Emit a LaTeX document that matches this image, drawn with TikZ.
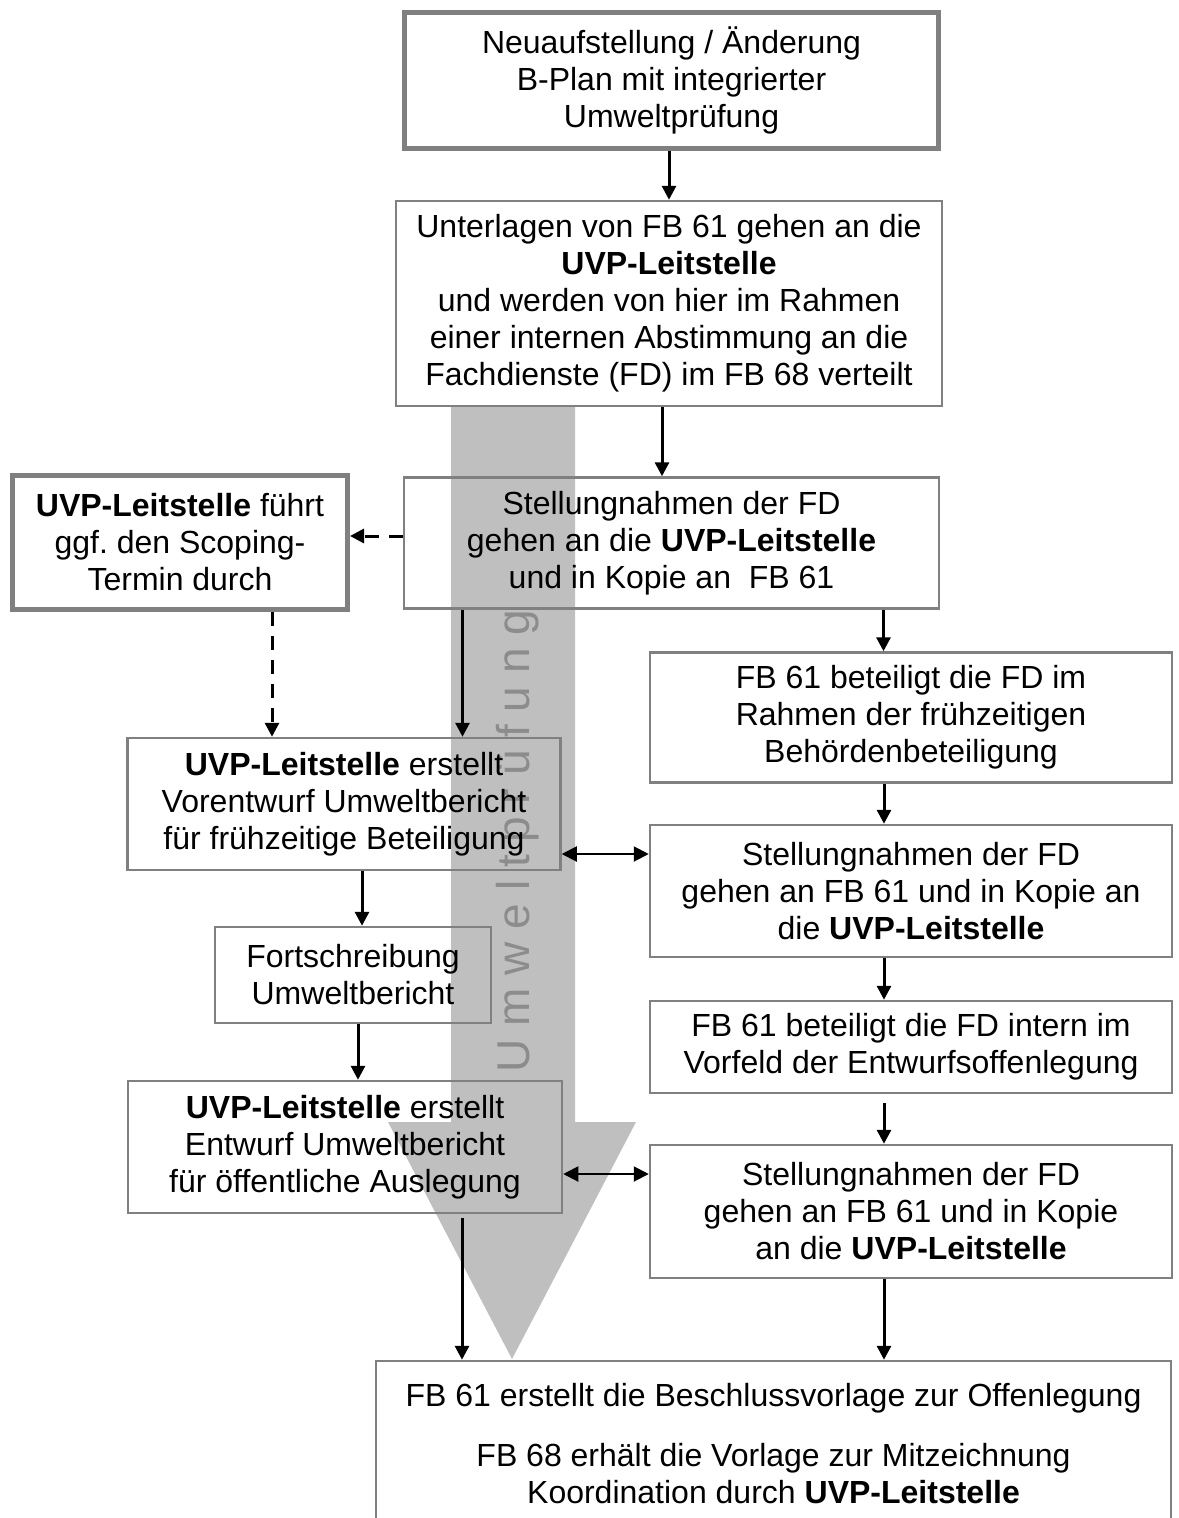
\documentclass[tikz,border=0pt]{standalone}
\usepackage{fontspec}
\setmainfont{Liberation Sans}
\usetikzlibrary{arrows.meta}

\begin{document}
\frenchspacing
\begin{tikzpicture}[
	x=1pt, y=-1pt,
	box/.style={draw=black!50, line width=2.5pt, rectangle, align=center, inner sep=0pt, font=\fontsize{32}{37}\selectfont},
	thickbox/.style={box, line width=5pt},
	connect/.style={-{Triangle[width=14pt,length=14pt]}, line width=3pt},
	dashconnect/.style={connect, dash pattern=on 14pt off 10pt},
	both/.style={{Triangle[width=15pt,length=15pt]}-{Triangle[width=15pt,length=15pt]}, line width=2pt}
	]
	
	\useasboundingbox (0,0) rectangle (1178,1518);
	\clip (0,0) rectangle (1178,1518);
	
	%-----------------------
	% Column positions
	%-----------------------
	\def\xmid{671.5}   % main column
	\def\xleft{344}    % left column
	\def\xright{911}   % right column
	
	%-----------------------
	% Big gray arrow
	%-----------------------
	\fill[black!25] (451,406) -- (575,406) -- (575,1122) -- (636,1122) -- (512,1359) -- (388,1122) -- (451,1122) -- cycle;
	\node[rotate=90, text=black!45, inner sep=0pt, font=\fontsize{46}{46}\selectfont] (pruefung) at (518,841) {U m w e l t p r ü f u n g};
	
	%-----------------------
	% Main column
	%-----------------------
	\node[thickbox, minimum width=534pt, minimum height=136pt] (start) at (\xmid,80.5) {Neuaufstellung / Änderung\\B-Plan mit integrierter\\Umweltprüfung};
	\node[box, minimum width=546pt, minimum height=205pt] (unterlagen) at (669,303.5) {Unterlagen von FB 61 gehen an die\\\textbf{UVP-Leitstelle}\\und werden von hier im Rahmen\\einer internen Abstimmung an die\\Fachdienste (FD) im FB 68 verteilt};
	\node[box, minimum width=535pt, minimum height=131pt] (stellung1) at (\xmid,543) {Stellungnahmen der FD\\gehen an die \textbf{UVP-Leitstelle}\\und in Kopie an \ FB 61};
	\node[thickbox, minimum width=335pt, minimum height=134pt] (scoping) at (180,542.5) {\textbf{UVP-Leitstelle} führt\\ggf. den Scoping-\\Termin durch};
	
	%-----------------------
	% Left column
	%-----------------------
	\node[box, minimum width=433pt, minimum height=132pt] (vorentwurf) at (\xleft,804) {\textbf{UVP-Leitstelle} erstellt\\Vorentwurf Umweltbericht\\für frühzeitige Beteiligung};
	\node[box, minimum width=276pt, minimum height=96pt] (fortschreib) at (353,975) {Fortschreibung\\Umweltbericht};
	\node[box, minimum width=434pt, minimum height=132pt] (entwurf) at (345,1147) {\textbf{UVP-Leitstelle} erstellt\\Entwurf Umweltbericht\\für öffentliche Auslegung};
	
	%-----------------------
	% Right column
	%-----------------------
	\node[box, minimum width=522pt, minimum height=130pt] (beteilig1) at (\xright,717.5) {FB 61 beteiligt die FD im\\Rahmen der frühzeitigen\\Behördenbeteiligung};
	\node[box, minimum width=522pt, minimum height=132pt] (stellung2) at (\xright,891) {Stellungnahmen der FD\\gehen an FB 61 und in Kopie an\\die \textbf{UVP-Leitstelle}};
	\node[box, minimum width=522pt, minimum height=92pt] (beteilig2) at (\xright,1047) {FB 61 beteiligt die FD intern im\\Vorfeld der Entwurfsoffenlegung};
	\node[box, minimum width=522pt, minimum height=133pt] (stellung3) at (\xright,1211.5) {Stellungnahmen der FD\\gehen an FB 61 und in Kopie\\an die \textbf{UVP-Leitstelle}};
	
	%-----------------------
	% Final box
	%-----------------------
	\node[box, minimum width=795pt, minimum height=166pt] (final) at (773.5,1444) {FB 61 erstellt die Beschlussvorlage zur Offenlegung\\[23pt]FB 68 erhält die Vorlage zur Mitzeichnung\\Koordination durch \textbf{UVP-Leitstelle}};
	
	%-----------------------
	% Connections
	%-----------------------
	% main column
	\draw[connect] (start.south -| unterlagen.north) -- (unterlagen.north);
	\draw[connect] ([xshift=-7pt]unterlagen.south) -- ([xshift=-7pt]unterlagen.south |- stellung1.north);
	
	% scoping (dashed)
	\draw[dashconnect] ([yshift=7pt]stellung1.west) -- ([yshift=7pt]stellung1.west -| scoping.east);
	\draw[dashconnect] ([xshift=92pt]scoping.south) -- ([xshift=92pt]scoping.south |- vorentwurf.north);
	
	% stellung1 -> left and right column
	\draw[connect] ([xshift=-209pt]stellung1.south) -- ([xshift=-209pt]stellung1.south |- vorentwurf.north);
	\draw[connect] ([xshift=212pt]stellung1.south) -- ([xshift=212pt]stellung1.south |- beteilig1.north);
	
	% right column
	\draw[connect] ([xshift=-27pt]beteilig1.south) -- ([xshift=-27pt]beteilig1.south |- stellung2.north);
	\draw[connect] ([xshift=-27pt]stellung2.south) -- ([xshift=-27pt]stellung2.south |- beteilig2.north);
	\draw[connect] ([xshift=-27pt,yshift=-9pt]beteilig2.south) -- ([xshift=-27pt]beteilig2.south |- stellung3.north);
	\draw[connect] ([xshift=-27pt]stellung3.south) -- ([xshift=-27pt]stellung3.south |- final.north);
	
	% left column
	\draw[connect] ([xshift=18pt]vorentwurf.south) -- ([xshift=18pt]vorentwurf.south |- fortschreib.north);
	\draw[connect] ([xshift=5pt]fortschreib.south) -- ([xshift=5pt]fortschreib.south |- entwurf.north);
	\draw[connect] ([xshift=117pt,yshift=-4pt]entwurf.south) -- ([xshift=117pt]entwurf.south |- final.north);
	
	% exchange between columns
	\draw[both] ([yshift=-50pt]vorentwurf.east) -- ([yshift=-50pt]vorentwurf.east -| stellung2.west);
	\draw[both] ([yshift=-27pt]entwurf.east) -- ([yshift=-27pt]entwurf.east -| stellung3.west);
	
\end{tikzpicture}
\end{document}
